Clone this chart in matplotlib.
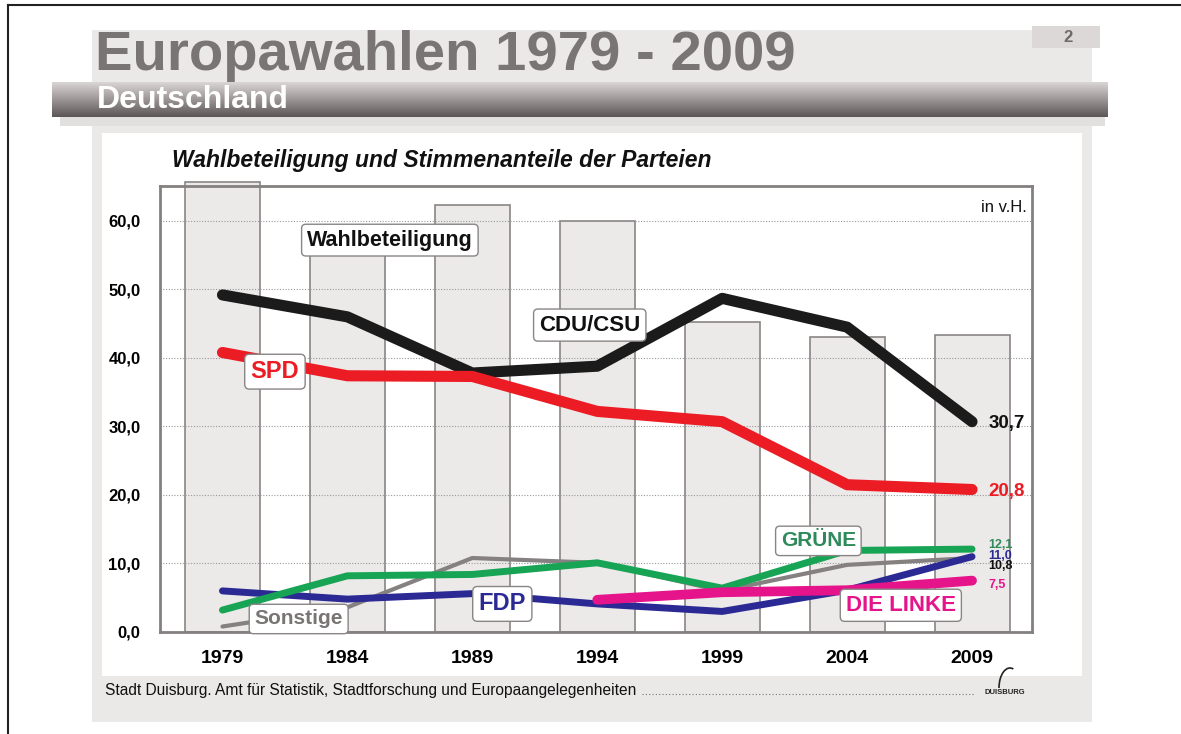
import numpy as np
import matplotlib
matplotlib.use('Agg')
from matplotlib import pyplot as plt
from matplotlib.patches import Rectangle, Arc

plt.rcParams['font.family'] = ['Liberation Sans', 'DejaVu Sans']

years = ['1979', '1984', '1989', '1994', '1999', '2004', '2009']
turnout = [65.7, 56.8, 62.3, 60.0, 45.2, 43.0, 43.3]
cdu = [49.2, 46.0, 37.8, 38.8, 48.7, 44.5, 30.7]
spd = [40.8, 37.4, 37.3, 32.2, 30.7, 21.5, 20.8]
gruene = [3.2, 8.2, 8.4, 10.1, 6.4, 11.9, 12.1]
fdp = [6.0, 4.8, 5.6, 4.1, 3.0, 6.1, 11.0]
sonstige = [0.8, 3.6, 10.8, 10.1, 6.0, 9.8, 10.8]
linke_years = ['1994', '1999', '2004', '2009']
linke = [4.7, 5.8, 6.1, 7.5]
yticks = [0, 10, 20, 30, 40, 50, 60]
ytick_labels = ['0,0', '10,0', '20,0', '30,0', '40,0', '50,0', '60,0']

W, H = 1181, 734
fig = plt.figure(figsize=(W / 100, H / 100), dpi=100)
fig.patch.set_facecolor('white')

# page background in pixel coordinates
bg = fig.add_axes([0, 0, 1, 1])
bg.axis('off')

bg.plot([8, W + 5], [5, 5], color='#222222', lw=1.5)
bg.plot([8, 8], [5, H + 5], color='#222222', lw=1.5)
bg.add_patch(Rectangle((92, 30), 1000, 692, facecolor='#ebe8e8', edgecolor='none', zorder=1))
bg.add_patch(Rectangle((60, 117), 1045, 9, facecolor='#e2dfdf', edgecolor='none', zorder=1))
bg.add_patch(Rectangle((102, 133), 980, 543, facecolor='white', edgecolor='none', zorder=1))
bg.add_patch(Rectangle((1032, 26), 68, 22, facecolor='#dcd8d8', edgecolor='none', zorder=1))
bg.text(1068, 37, '2', ha='center', va='center', fontsize=12, fontweight='bold', color='#6e6a6a', zorder=5)

grad = np.linspace(0, 1, 64).reshape(-1, 1)
bg.imshow(grad, extent=(52, 1108, 117, 82), aspect='auto', origin='upper', zorder=3,
          cmap=matplotlib.colors.LinearSegmentedColormap.from_list('b', ['#dad5d5', '#5d5656']))
bg.set_xlim(0, W)
bg.set_ylim(H, 0)

bg.text(95, 56, 'Europawahlen 1979 - 2009', ha='left', va='center', fontsize=40.5,
        fontweight='bold', color='#7a7575', zorder=5)
bg.text(97, 100, 'Deutschland', ha='left', va='center', fontsize=23,
        fontweight='bold', color='white', zorder=5)
bg.text(172, 160, 'Wahlbeteiligung und Stimmenanteile der Parteien', ha='left', va='center',
        fontsize=16.5, fontweight='bold', fontstyle='italic', color='#111111', zorder=5)

bg.text(105, 690, 'Stadt Duisburg. Amt f\u00fcr Statistik, Stadtforschung und Europaangelegenheiten',
        ha='left', va='center', fontsize=11.2, color='#111111', zorder=5)
bg.plot([642, 975], [694, 694], color='#777777', lw=0.8, ls=(0, (1, 2)), zorder=5)
bg.text(1005, 693, 'DUISBURG', ha='center', va='center', fontsize=5.5, fontweight='bold',
        color='#222222', zorder=5)
bg.add_patch(Arc((1010, 688), 22, 40, theta1=180, theta2=280, color='#222222', lw=1.2, zorder=5))

# chart
ax = fig.add_axes([160 / W, (H - 632) / H, (1032 - 160) / W, (632 - 186) / H])
ax.set_facecolor('white')
x = np.arange(len(years))
ax.bar(x, turnout, width=0.6, color='#ece9e9', edgecolor='#8a8585', linewidth=1.2,
       zorder=1, clip_on=False)
for v in yticks[1:]:
    ax.axhline(v, color='#999999', lw=0.8, ls=(0, (1, 1.5)), zorder=2)

xl = np.arange(3, 7)
ax.plot(x, sonstige, color='#868181', lw=3, zorder=3, solid_capstyle='round')
ax.plot(x, fdp, color='#2b2a94', lw=5, zorder=4, solid_capstyle='round')
ax.plot(x, gruene, color='#17a454', lw=5, zorder=5, solid_capstyle='round')
ax.plot(xl, linke, color='#e5148a', lw=7, zorder=6, solid_capstyle='round')
ax.plot(x, cdu, color='#1b1b1b', lw=8, zorder=7, solid_capstyle='round', solid_joinstyle='round')
ax.plot(x, spd, color='#ec1c24', lw=8, zorder=8, solid_capstyle='round', solid_joinstyle='round')

ax.set_xlim(-0.5, 6.48)
ax.set_ylim(0, 65.1)
ax.set_xticks(x)
ax.set_xticklabels(years, fontsize=14, fontweight='bold')
ax.set_yticks(yticks)
ax.set_yticklabels(ytick_labels, fontsize=12, fontweight='bold')
ax.tick_params(length=0)
ax.tick_params(axis='y', pad=14)
ax.tick_params(axis='x', pad=13)
for s in ax.spines.values():
    s.set_color('#858080')
    s.set_linewidth(2)
    s.set_zorder(9)


def boxed(xx, yy, txt, color, size):
    ax.text(xx, yy, txt, ha='center', va='center', fontsize=size, fontweight='bold', color=color,
            zorder=10, bbox=dict(boxstyle='round,pad=0.25,rounding_size=0.2', facecolor='white',
                                 edgecolor='#8a8585', linewidth=1))


boxed(1.34, 57.2, 'Wahlbeteiligung', '#111111', 15.5)
boxed(2.94, 44.8, 'CDU/CSU', '#111111', 16)
boxed(0.42, 38.0, 'SPD', '#ec1c24', 17)
boxed(4.77, 13.3, 'GR\u00dcNE', '#2e8a5a', 15)
boxed(2.24, 4.1, 'FDP', '#2b2a94', 17)
boxed(5.43, 3.9, 'DIE LINKE', '#e5148a', 16)
boxed(0.61, 1.9, 'Sonstige', '#7a7575', 15)

ax.text(6.13, cdu[-1] - 0.3, '30,7', ha='left', va='center', fontsize=13.5, fontweight='bold', color='#111111', zorder=10)
ax.text(6.13, spd[-1] - 0.3, '20,8', ha='left', va='center', fontsize=13.5, fontweight='bold', color='#ec1c24', zorder=10)
ax.text(6.13, 12.7, '12,1', ha='left', va='center', fontsize=9, fontweight='bold', color='#2e8a5a', zorder=10)
ax.text(6.13, 11.1, '11,0', ha='left', va='center', fontsize=9, fontweight='bold', color='#2b2a94', zorder=10)
ax.text(6.13, 9.6, '10,8', ha='left', va='center', fontsize=9, fontweight='bold', color='#111111', zorder=10)
ax.text(6.13, 6.9, '7,5', ha='left', va='center', fontsize=9, fontweight='bold', color='#e5148a', zorder=10)
ax.text(6.44, 62.0, 'in v.H.', ha='right', va='center', fontsize=12, color='#111111', zorder=10)

fig.savefig('out.png', dpi=100)
